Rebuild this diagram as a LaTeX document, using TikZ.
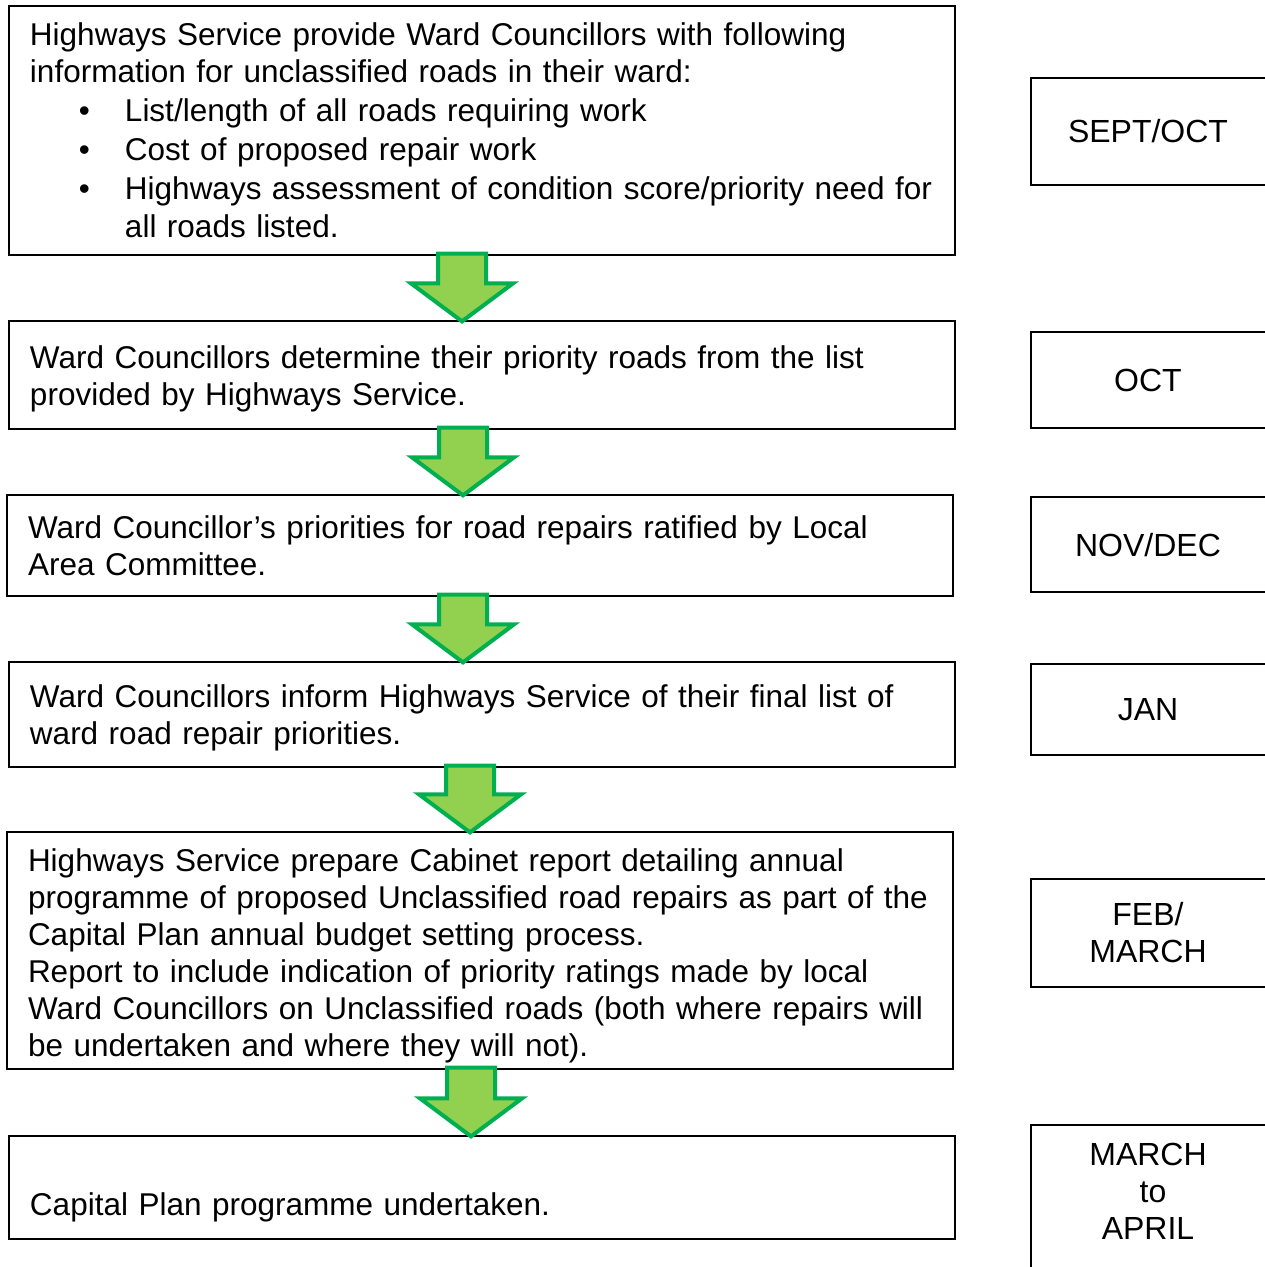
\documentclass[tikz,border=0pt]{standalone}
\usepackage{fontspec}
\setmainfont{Liberation Sans}
\usepackage{tikz}
\usepackage{xcolor}
\usetikzlibrary{calc}

\definecolor{arrowfill}{HTML}{92D050}
\definecolor{arrowline}{HTML}{00B050}

\newcommand{\bul}{\hspace*{49pt}\makebox[46pt][l]{\textbullet}}
% block arrow from the bottom of one box to the top of the next
\newcommand{\flowarrow}[3]{%
  \draw[greenarrow] let \p1=(#1.south), \p2=(#2.north) in
    ({#3pt-24pt},{\y1+2pt}) -- ({#3pt+24pt},{\y1+2pt}) -- ({#3pt+24pt},{\y2+37pt})
    -- ({#3pt+51pt},{\y2+37pt}) -- ({#3pt},{\y2-1pt}) -- ({#3pt-51pt},{\y2+37pt})
    -- ({#3pt-24pt},{\y2+37pt}) -- cycle;}

\begin{document}
\begin{tikzpicture}[x=1pt,y=-1pt]
	\tikzstyle{stepbox} = [draw=black, line width=1.3, inner xsep=21, inner ysep=0,
	                       minimum width=946, text width=904, align=left,
	                       font=\fontsize{31.5}{37}\selectfont]
	\tikzstyle{datebox} = [draw=black, line width=1.3]
	\tikzstyle{datetext} = [align=center, font=\fontsize{32}{37}\selectfont]
	\tikzstyle{greenarrow} = [draw=arrowline, fill=arrowfill, line width=4, line join=miter]
	\useasboundingbox (0,0) rectangle (1265,1267);
	\clip (0,0) rectangle (1265,1267);

	% steps
	\node[stepbox, minimum height=249] (info) at (482,130.5) {Highways Service provide Ward Councillors with following\\
information for unclassified roads in their ward:\\[2pt]
\bul List/length of all roads requiring work\\[2pt]
\bul Cost of proposed repair work\\[2pt]
\mbox{\bul Highways assessment of condition score/priority need for}\\[1pt]
\hspace*{95pt}all roads listed.};
	\node[stepbox, minimum height=108] (choose) at (482,375) {\rule{0pt}{30pt}Ward Councillors determine their priority roads from the list\\
provided by Highways Service.};
	\node[stepbox, minimum height=101] (ratify) at (480,545.5) {Ward Councillor’s priorities for road repairs ratified by Local\\
Area Committee.};
	\node[stepbox, minimum height=105] (inform) at (482,714.5) {\rule{0pt}{29pt}Ward Councillors inform Highways Service of their final list of\\
ward road repair priorities.};
	\node[stepbox, minimum height=237] (report) at (480,950.5) {\rule{0pt}{34pt}Highways Service prepare Cabinet report detailing annual\\
\mbox{programme of proposed Unclassified road repairs as part of the}\\
Capital Plan annual budget setting process.\\
Report to include indication of priority ratings made by local\\
\mbox{Ward Councillors on Unclassified roads (both where repairs will}\\
be undertaken and where they will not).};
	\node[stepbox, minimum height=103] (deliver) at (482,1187.5) {\strut\\
\rule{0pt}{20pt}Capital Plan programme undertaken.};

	% arrows
	\flowarrow{info}{choose}{462}
	\flowarrow{choose}{ratify}{463}
	\flowarrow{ratify}{inform}{463}
	\flowarrow{inform}{report}{470}
	\flowarrow{report}{deliver}{471}

	% dates
	\draw[datebox] (1300,78) -- (1031,78) -- (1031,185) -- (1300,185);
	\node[datetext] (sept) at (1148,131.5) {SEPT/OCT};
	\draw[datebox] (1300,332) -- (1031,332) -- (1031,428) -- (1300,428);
	\node[datetext] (oct) at (1148,380) {OCT};
	\draw[datebox] (1300,497) -- (1031,497) -- (1031,592) -- (1300,592);
	\node[datetext] (nov) at (1148,545) {NOV/DEC};
	\draw[datebox] (1300,664) -- (1031,664) -- (1031,755) -- (1300,755);
	\node[datetext] (jan) at (1148,710) {JAN};
	\draw[datebox] (1300,879) -- (1031,879) -- (1031,987) -- (1300,987);
	\node[datetext] (feb) at (1148,933) {FEB/\\MARCH};
	\draw[datebox] (1300,1125) -- (1031,1125) -- (1031,1300);
	\node[datetext] (march) at (1148,1191) {MARCH\\ \hspace*{10pt}to\\APRIL};
\end{tikzpicture}
\end{document}
